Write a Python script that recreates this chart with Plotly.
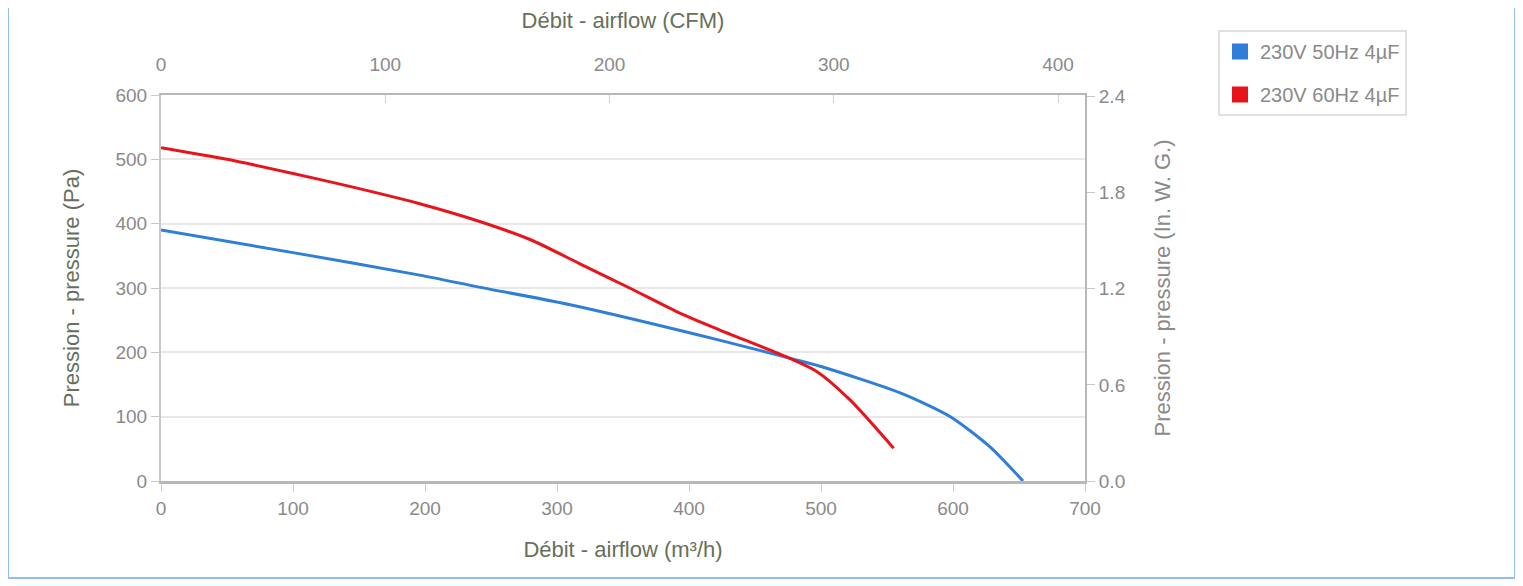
import plotly.graph_objects as go

# Data (airflow m3/h, pressure Pa)
blue_name = "230V 50Hz 4µF"
blue_x = [0, 100, 196, 242, 310, 423, 476, 500, 560, 598, 628, 653]
blue_y = [390, 355, 320, 301, 274, 219, 191, 178, 137, 100, 53, 0]

red_name = "230V 60Hz 4µF"
red_x = [0, 50, 100, 143, 196, 242, 280, 317, 355, 393, 423, 476, 497, 522, 555]
red_y = [518, 500, 478, 458, 431, 403, 375, 338, 300, 261, 235, 191, 170, 126, 51]

x_ticks_m3h = [0, 100, 200, 300, 400, 500, 600, 700]
x_ticks_cfm = [0, 100, 200, 300, 400]
y_ticks_pa = [0, 100, 200, 300, 400, 500, 600]
y_ticks_inwg = [0.0, 0.6, 1.2, 1.8, 2.4]

M3H_PER_CFM = 1.699
PA_PER_INWG = 249.09

BLUE = "#2f7ed8"
RED = "#e8141c"
FONT = "Liberation Sans, Arial"
TICK_COLOR = "#8a8a8a"
TITLE_COLOR = "#66705a"

fig = go.Figure()
fig.add_trace(go.Scatter(x=blue_x, y=blue_y, mode="lines", name=blue_name,
                         line=dict(color=BLUE, width=3, shape="spline", smoothing=0.7),
                         showlegend=False))
fig.add_trace(go.Scatter(x=red_x, y=red_y, mode="lines", name=red_name,
                         line=dict(color=RED, width=3, shape="spline", smoothing=0.7),
                         showlegend=False))
# legend entries as squares
for i, (nm, col) in enumerate([(blue_name, BLUE), (red_name, RED)]):
    fig.add_trace(go.Scatter(x=[None], y=[None], mode="markers", name=nm,
                             legendgroup=f"g{i}",
                             marker=dict(symbol="square", size=18, color=col)))
# invisible traces to carry secondary axes
fig.add_trace(go.Scatter(x=[0, 700 / M3H_PER_CFM], y=[0, 0], xaxis="x2", yaxis="y",
                         mode="lines", line=dict(width=0), hoverinfo="skip", showlegend=False))
fig.add_trace(go.Scatter(x=[0, 0], y=[0, 600 / PA_PER_INWG], xaxis="x", yaxis="y2",
                         mode="lines", line=dict(width=0), hoverinfo="skip", showlegend=False))

fig.update_layout(
    width=1515, height=578,
    margin=dict(l=153, r=438, t=87, b=105),
    paper_bgcolor="white", plot_bgcolor="white",
    font=dict(family=FONT, size=19, color=TICK_COLOR),
    xaxis=dict(range=[0, 700], tickvals=x_ticks_m3h, showgrid=False,
               showline=True, linecolor="#b8b8b8", linewidth=3,
               ticks="outside", ticklen=8, tickcolor="#d0d0d0",
               tickfont=dict(size=19, color=TICK_COLOR),
               title=dict(text="Débit - airflow (m³/h)", font=dict(size=22, color=TITLE_COLOR), standoff=24),
               zeroline=False),
    xaxis2=dict(range=[0, 700 / M3H_PER_CFM], tickvals=x_ticks_cfm, overlaying="x", side="top",
                showgrid=False, showline=True, linecolor="#b8b8b8", linewidth=2,
                ticks="inside", ticklen=8, tickcolor="#d0d0d0", ticklabelstandoff=14,
                tickfont=dict(size=19, color=TICK_COLOR),
                title=dict(text="Débit - airflow (CFM)", font=dict(size=22, color=TITLE_COLOR), standoff=20),
                zeroline=False),
    yaxis=dict(range=[0, 600], tickvals=y_ticks_pa, showgrid=True, gridcolor="#e8e8e8", gridwidth=2,
               showline=True, linecolor="#c8c8c8", linewidth=2,
               ticks="outside", ticklen=8, tickcolor="#c8c8c8",
               tickfont=dict(size=19, color=TICK_COLOR),
               title=dict(text="Pression - pressure (Pa)", font=dict(size=22, color=TITLE_COLOR), standoff=30),
               zeroline=False),
    yaxis2=dict(range=[0, 600 / PA_PER_INWG], tickvals=y_ticks_inwg, tickformat=".1f",
                overlaying="y", side="right", showgrid=False,
                showline=True, linecolor="#b8b8b8", linewidth=2,
                ticks="outside", ticklen=8, tickcolor="#c8c8c8",
                tickfont=dict(size=19, color=TICK_COLOR),
                title=dict(text="Pression - pressure (In. W. G.)", font=dict(size=22, color=TICK_COLOR), standoff=30),
                zeroline=False),
    legend=dict(x=(1218 - 161) / 924, y=(481 - 30) / 386, xanchor="left", yanchor="top",
                bordercolor="#e0e0e0", borderwidth=2, bgcolor="white",
                font=dict(size=20, color=TICK_COLOR),
                tracegroupgap=14),
    shapes=[dict(type="rect", xref="paper", yref="paper",
                 x0=(8 - 161) / 924, x1=(1515 - 161) / 924,
                 y0=(481 - 578) / 386, y1=(481 - 6) / 386,
                 line=dict(color="#8fbff0", width=2), layer="below")],
)

fig.write_html("out.html")
